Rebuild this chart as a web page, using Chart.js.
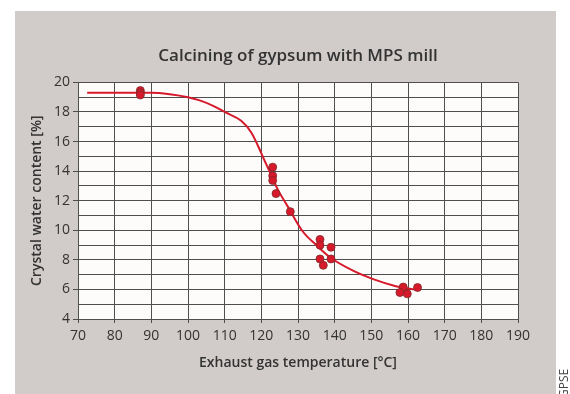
<!DOCTYPE html>
<html>
<head>
<meta charset="utf-8">
<script src="https://cdn.jsdelivr.net/npm/chart.js@4"></script>
<style>
  html, body { margin: 0; padding: 0; background: #fff; }
  #wrap { width: 570px; height: 394px; }
</style>
</head>
<body>
<div id="wrap"><canvas id="chart" width="570" height="394"></canvas></div>
<script>
// measured points
const tempPoints = [87, 87, 87, 123.1, 123.1, 123.1, 124, 127.9, 136, 136, 139, 136, 136.9, 139, 158.7, 157.8, 159.8, 162.6];
const waterPoints = [19.45, 19.3, 19.15, 14.27, 13.68, 13.37, 12.48, 11.26, 9.38, 8.99, 8.85, 8.06, 7.63, 8.06, 6.16, 5.79, 5.7, 6.13];

// fitted curve
const curveTemp = [72.5, 80, 90, 95, 100, 103, 107, 110, 114.5, 117.3, 119.1, 120.9, 122.2, 124.4, 127.1, 131.2, 135.2, 138.8, 145, 150.5, 156.7, 161.6];
const curveWater = [19.3, 19.3, 19.3, 19.2, 19.0, 18.8, 18.4, 18.0, 17.4, 16.6, 15.7, 14.7, 14.0, 12.8, 11.65, 9.95, 8.95, 8.16, 7.27, 6.7, 6.22, 6.0];

const xTicks = [70, 80, 90, 100, 110, 120, 130, 140, 150, 160, 170, 180, 190];
const yTicks = [4, 6, 8, 10, 12, 14, 16, 18, 20];

const red = '#d71a2b';
const gridCol = '#4f4f4f';
const textCol = '#333333';

const backdrop = {
  id: 'backdrop',
  beforeDraw(chart) {
    const ctx = chart.ctx;
    const a = chart.chartArea;
    ctx.save();
    ctx.fillStyle = '#ffffff';
    ctx.fillRect(0, 0, chart.width, chart.height);
    ctx.fillStyle = '#d1cbc9';
    ctx.fillRect(15, 11, 541, chart.height - 11);
    ctx.fillStyle = '#fdfcfb';
    ctx.fillRect(a.left, a.top, a.right - a.left, a.bottom - a.top);
    ctx.restore();
  },
  afterDraw(chart) {
    const ctx = chart.ctx;
    ctx.save();
    ctx.translate(568, 398);
    ctx.rotate(-Math.PI / 2);
    ctx.fillStyle = '#444';
    ctx.font = '12px "Open Sans"';
    ctx.fillText('GPSE', 0, 0);
    ctx.restore();
  }
};

new Chart(document.getElementById('chart').getContext('2d'), {
  type: 'scatter',
  data: {
    datasets: [
      {
        label: 'curve',
        data: curveTemp.map((t, i) => ({x: t, y: curveWater[i]})),
        showLine: true,
        borderColor: red,
        borderWidth: 2,
        pointRadius: 0,
        cubicInterpolationMode: 'monotone',
        order: 2
      },
      {
        label: 'measured',
        data: tempPoints.map((t, i) => ({x: t, y: waterPoints[i]})),
        backgroundColor: red,
        borderColor: '#7d2a2a',
        borderWidth: 0.8,
        pointRadius: 4,
        order: 1
      }
    ]
  },
  options: {
    responsive: false,
    animation: false,
    layout: { padding: { left: 0, right: 52, top: 0, bottom: 0 } },
    plugins: {
      legend: { display: false },
      tooltip: { enabled: false },
      title: {
        display: true,
        fullSize: false,
        text: 'Calcining of gypsum with MPS mill',
        color: textCol,
        font: { family: '"Open Sans"', size: 17, weight: '600', lineHeight: 1.2 },
        padding: { top: 46, bottom: 16 }
      }
    },
    scales: {
      x: {
        type: 'linear',
        min: xTicks[0],
        max: xTicks[xTicks.length - 1],
        afterBuildTicks: (s) => { s.ticks = xTicks.map(v => ({value: v})); },
        afterFit: (s) => { s.height = 75; },
        grid: { color: gridCol, lineWidth: 1, tickLength: 4, tickColor: gridCol },
        border: { color: gridCol, width: 1 },
        ticks: {
          color: textCol,
          padding: 5,
          maxRotation: 0,
          font: { family: '"Open Sans"', size: 14 }
        },
        title: {
          display: true,
          text: 'Exhaust gas temperature [°C]',
          color: textCol,
          font: { family: '"Open Sans"', size: 14, weight: '600', lineHeight: 1.2 },
          padding: { top: 0, bottom: 23 }
        }
      },
      y: {
        type: 'linear',
        min: yTicks[0],
        max: yTicks[yTicks.length - 1],
        // one grid line per unit, labels only on the even values
        afterBuildTicks: (s) => {
          const t = [];
          for (let v = yTicks[0]; v <= yTicks[yTicks.length - 1]; v++) t.push({value: v});
          s.ticks = t;
        },
        ticks: {
          autoSkip: false,
          color: textCol,
          padding: 3,
          font: { family: '"Open Sans"', size: 14 },
          callback: (v) => (yTicks.includes(v) ? v : '')
        },
        afterFit: (s) => { s.width = 78; },
        grid: {
          color: gridCol,
          lineWidth: 1,
          tickLength: 5,
          tickColor: (c) => (c.tick && yTicks.includes(c.tick.value) ? gridCol : 'rgba(0,0,0,0)')
        },
        border: { color: gridCol, width: 1 },
        title: {
          display: true,
          text: 'Crystal water content [%]',
          color: textCol,
          font: { family: '"Open Sans"', size: 14, weight: '600', lineHeight: 1.2 },
          padding: { top: 29, bottom: 0 }
        }
      }
    }
  },
  plugins: [backdrop]
});
</script>
</body>
</html>
